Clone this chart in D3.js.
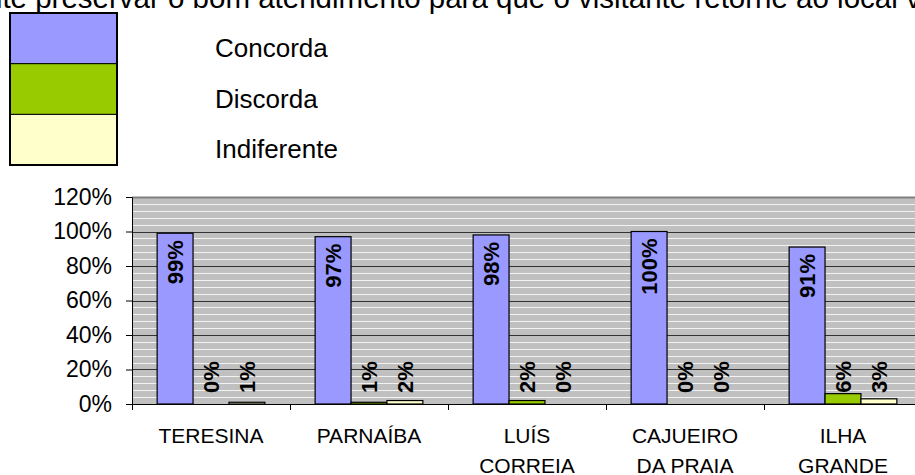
<!DOCTYPE html>
<html>
<head>
<meta charset="utf-8">
<script src="https://cdn.jsdelivr.net/npm/d3@7"></script>
<style>
  body { margin: 0; background: #fff; }
  svg { display: block; font-family: Arial, "Liberation Sans", sans-serif; }
</style>
</head>
<body>
<svg width="915" height="475"></svg>
<script>
var categories = ["TERESINA", "PARNAÍBA", "LUÍS\nCORREIA", "CAJUEIRO\nDA PRAIA", "ILHA\nGRANDE"];
var seriesNames = ["Concorda", "Discorda", "Indiferente"];
var concorda = [0.99, 0.97, 0.98, 1.00, 0.91];
var discorda = [0.00, 0.01, 0.02, 0.00, 0.06];
var indiferente = [0.01, 0.02, 0.00, 0.00, 0.03];
var yTicks = [0, 0.2, 0.4, 0.6, 0.8, 1.0, 1.2];
var colors = ["#9999ff", "#99cc00", "#ffffcc"];

var svg = d3.select("svg");

var plotLeft = 132, plotRight = 922, plotTop = 197, plotBottom = 404;

var x = d3.scaleBand().domain(categories).range([plotLeft, plotRight]);
var xs = d3.scaleBand().domain(seriesNames).range([0, x.bandwidth()])
    .paddingInner(0).paddingOuter(0.7);
var y = d3.scaleLinear().domain([0, 1.2]).range([plotBottom, plotTop]);
var color = d3.scaleOrdinal().domain(seriesNames).range(colors);

var values = [concorda, discorda, indiferente];
var rows = [];
categories.forEach(function (c, i) {
    seriesNames.forEach(function (s, j) {
        rows.push({ cat: c, series: s, value: values[j][i] });
    });
});

// title (cut at the top of the picture)
svg.append("text")
    .attr("x", -14).attr("y", 7.5)
    .attr("font-size", "29.5px")
    .text("nte preservar o bom atendimento para que o visitante retorne ao local visitado");

// legend
var leg = svg.append("g");
leg.selectAll("rect.key")
    .data(seriesNames)
    .enter().append("rect")
    .attr("class", "key")
    .attr("x", 10)
    .attr("y", function (d, i) { return 13 + i * 50.7; })
    .attr("width", 107)
    .attr("height", 50.7)
    .attr("fill", function (d) { return color(d); })
    .attr("stroke", "#000")
    .attr("stroke-width", 1);
leg.append("rect")
    .attr("x", 10).attr("y", 13)
    .attr("width", 107).attr("height", 152)
    .attr("fill", "none")
    .attr("stroke", "#000")
    .attr("stroke-width", 2);
leg.selectAll("text")
    .data(seriesNames)
    .enter().append("text")
    .attr("x", 215)
    .attr("y", function (d, i) { return 57 + i * 50.5; })
    .attr("font-size", "26px")
    .text(function (d) { return d; });

// plot area
svg.append("rect")
    .attr("x", plotLeft).attr("y", plotTop)
    .attr("width", plotRight - plotLeft).attr("height", plotBottom - plotTop)
    .attr("fill", "#c0c0c0");

// light stripes
svg.append("g").selectAll("line")
    .data(d3.range(0.04, 1.2, 0.04).filter(function (v) {
        return Math.abs(v / 0.2 - Math.round(v / 0.2)) > 0.01;
    }))
    .enter().append("line")
    .attr("x1", plotLeft).attr("x2", plotRight)
    .attr("y1", function (d) { return Math.round(y(d)) + 0.5; })
    .attr("y2", function (d) { return Math.round(y(d)) + 0.5; })
    .attr("stroke", "#f2f2f2")
    .attr("stroke-width", 1);

// gridlines
svg.append("g").selectAll("line")
    .data(yTicks.slice(1))
    .enter().append("line")
    .attr("x1", plotLeft).attr("x2", plotRight)
    .attr("y1", function (d) { return Math.round(y(d)) + 0.5; })
    .attr("y2", function (d) { return Math.round(y(d)) + 0.5; })
    .attr("stroke", function (d) { return d > 1.1 ? "#808080" : "#333"; })
    .attr("stroke-width", function (d) { return d > 1.1 ? 2 : 1; });

// bars
svg.append("g").selectAll("rect")
    .data(rows)
    .enter().append("rect")
    .attr("x", function (d) { return x(d.cat) + xs(d.series); })
    .attr("y", function (d) { return y(d.value); })
    .attr("width", xs.bandwidth())
    .attr("height", function (d) { return plotBottom - y(d.value); })
    .attr("fill", function (d) { return color(d.series); })
    .attr("stroke", "#000")
    .attr("stroke-width", 1.2);

// value labels
svg.append("g").selectAll("text")
    .data(rows)
    .enter().append("text")
    .attr("transform", function (d) {
        var cx = x(d.cat) + xs(d.series) + xs.bandwidth() / 2;
        var inside = plotBottom - y(d.value) > 60;
        var py = inside ? y(d.value) + 7 : Math.min(y(d.value) - 1, plotBottom - 11);
        return "translate(" + cx + "," + py + ") rotate(-90)";
    })
    .attr("text-anchor", function (d) { return plotBottom - y(d.value) > 60 ? "end" : "start"; })
    .attr("dy", "0.36em")
    .attr("font-size", "22px")
    .attr("font-weight", "bold")
    .text(function (d) { return Math.round(d.value * 100) + "%"; });

// y axis
var yAxis = svg.append("g")
    .attr("transform", "translate(" + plotLeft + ",0)")
    .call(d3.axisLeft(y).tickValues(yTicks).tickSize(6).tickPadding(14)
        .tickFormat(d3.format(".0%")));
yAxis.selectAll("text").attr("font-size", "23px").attr("font-family", null).attr("fill", "#000");
yAxis.select(".domain").attr("stroke", "#000");
yAxis.selectAll(".tick line").attr("stroke", "#000");

// x axis baseline and boundary ticks
svg.append("line")
    .attr("x1", plotLeft).attr("x2", plotRight)
    .attr("y1", plotBottom + 0.5).attr("y2", plotBottom + 0.5)
    .attr("stroke", "#000");
svg.append("g").selectAll("line")
    .data(categories)
    .enter().append("line")
    .attr("x1", function (d) { return Math.round(x(d)) + 0.5; })
    .attr("x2", function (d) { return Math.round(x(d)) + 0.5; })
    .attr("y1", plotBottom).attr("y2", plotBottom + 6)
    .attr("stroke", "#000");

// category labels
var catLabel = svg.append("g").selectAll("text")
    .data(categories)
    .enter().append("text")
    .attr("text-anchor", "middle")
    .attr("font-size", "21px")
    .attr("x", function (d) { return x(d) + x.bandwidth() / 2; });
catLabel.selectAll("tspan")
    .data(function (d) { return d.split("\n"); })
    .enter().append("tspan")
    .attr("x", function () { return d3.select(this.parentNode).attr("x"); })
    .attr("y", function (d, i) { return 443 + i * 30; })
    .text(function (d) { return d; });
</script>
</body>
</html>
